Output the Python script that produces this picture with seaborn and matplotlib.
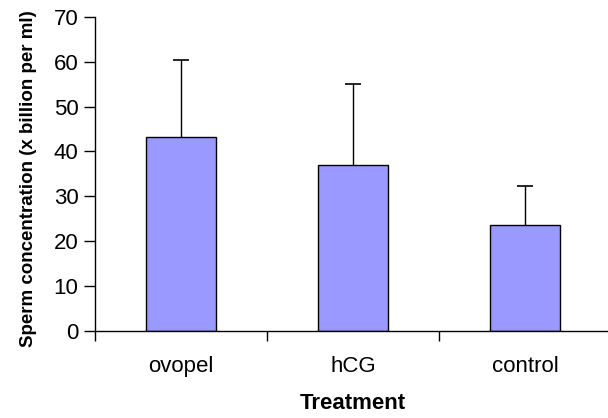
import numpy as np
import seaborn as sns
import matplotlib.pyplot as plt
from matplotlib.ticker import FixedLocator

treatments = ['ovopel', 'hCG', 'control']
means = [43.3, 37.0, 23.5]
sd_upper = [17.0, 18.1, 8.7]

sns.set_style('white')
plt.rcParams['font.family'] = ['Liberation Sans', 'DejaVu Sans']
plt.rcParams['text.color'] = 'black'
plt.rcParams['axes.labelcolor'] = 'black'
plt.rcParams['xtick.color'] = 'black'
plt.rcParams['ytick.color'] = 'black'

fig = plt.figure(figsize=(6.08, 4.18), dpi=100)
ax = fig.add_axes([0.1563, 0.2093, 0.8487, 0.75])

sns.barplot(x=treatments, y=means, color='#9999FF', saturation=1,
            edgecolor='black', linewidth=1, width=0.407, errorbar=None, ax=ax)
# one-sided (upper) error bars only
_, caps, _ = ax.errorbar(np.arange(len(means)), means,
                         yerr=[np.zeros(len(means)), sd_upper],
                         fmt='none', ecolor='black', elinewidth=1,
                         capsize=5.5, capthick=1.2)
caps[0].set_visible(False)

ax.set_xlim(-0.5, 2.5)
ax.set_ylim(0, 70)
ax.set_yticks(range(0, 71, 10))
ax.tick_params(axis='y', direction='out', length=8, width=1,
               labelsize=16, pad=4, left=True)
ax.tick_params(axis='x', which='major', length=0, labelsize=16, pad=18)
ax.xaxis.set_minor_locator(FixedLocator([-0.5, 0.5, 1.5, 2.5]))
ax.tick_params(axis='x', which='minor', direction='out', length=7, width=1,
               bottom=True)

for side in ['top', 'right']:
    ax.spines[side].set_visible(False)
for side in ['left', 'bottom']:
    ax.spines[side].set_color('black')
    ax.spines[side].set_linewidth(1)

ax.set_xlabel('Treatment', fontsize=16, fontweight='bold', labelpad=12)
ax.set_ylabel('Sperm concentration (x billion per ml)', fontsize=13.5,
              fontweight='bold')
ax.yaxis.set_label_coords(-0.112, 0.485)

fig.savefig('out.png', dpi=100)
